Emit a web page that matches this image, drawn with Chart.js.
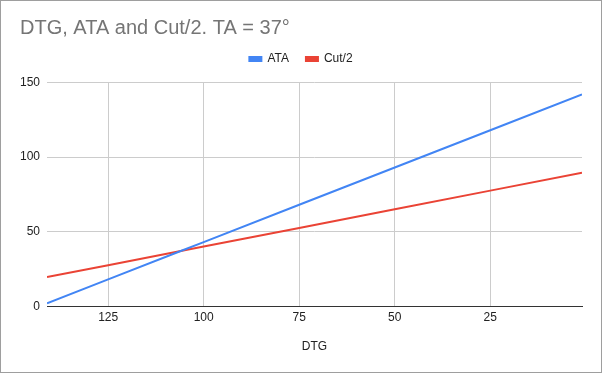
<!DOCTYPE html>
<html>
<head>
<meta charset="utf-8">
<script src="https://cdn.jsdelivr.net/npm/chart.js@4/dist/chart.umd.min.js"></script>
<style>
  html, body { margin: 0; padding: 0; background: #fff; }
  canvas { display: block; }
</style>
</head>
<body>
<canvas id="chart" width="602" height="373"></canvas>
<script>
// Values
const dtg = [141, 125, 106, 100, 75, 50, 25, 1];
const ata = [2, 18, 37, 43, 68, 93, 118, 142];
const cutHalf = [19.5, 27.5, 37, 40, 52.5, 65, 77.5, 89.5];
const xTicks = [125, 100, 75, 50, 25];
const yTicks = [0, 50, 100, 150];

const labelFont = { family: 'Liberation Sans, Arial, sans-serif', size: 12 };

// White background and thin grey frame
const framePlugin = {
    id: 'frame',
    beforeDraw(chart) {
        const ctx = chart.ctx;
        ctx.save();
        ctx.fillStyle = '#ffffff';
        ctx.fillRect(0, 0, chart.width, chart.height);
        ctx.restore();
    },
    afterDraw(chart) {
        const ctx = chart.ctx;
        ctx.save();
        ctx.strokeStyle = '#9e9e9e';
        ctx.lineWidth = 1;
        ctx.strokeRect(0.5, 0.5, chart.width - 1, chart.height - 1);
        ctx.restore();
    }
};

const ctx = document.getElementById('chart').getContext('2d');
new Chart(ctx, {
    type: 'scatter',
    data: {
        datasets: [
            {
                label: 'ATA',
                data: dtg.map((x, i) => ({ x, y: ata[i] })),
                borderColor: '#4285f4',
                backgroundColor: '#4285f4',
                borderWidth: 2,
                showLine: true,
                pointRadius: 0
            },
            {
                label: 'Cut/2',
                data: dtg.map((x, i) => ({ x, y: cutHalf[i] })),
                borderColor: '#ea4335',
                backgroundColor: '#ea4335',
                borderWidth: 2,
                showLine: true,
                pointRadius: 0
            }
        ]
    },
    options: {
        responsive: false,
        animation: false,
        layout: { padding: { left: 20, right: 20, top: 0, bottom: 19 } },
        plugins: {
            title: {
                display: true,
                text: 'DTG, ATA and Cut/2. TA = 37°',
                align: 'start',
                color: '#757575',
                font: { family: 'Liberation Sans, Arial, sans-serif', size: 20, weight: 'normal' },
                padding: { top: 16, bottom: -4 }
            },
            // empty spacer between the legend and the plot area
            subtitle: {
                display: true,
                text: '',
                weight: 500,
                font: { size: 1 },
                padding: { top: 3.3, bottom: 3 }
            },
            legend: {
                position: 'top',
                labels: {
                    boxWidth: 12,
                    boxHeight: 4,
                    padding: 17,
                    color: '#222222',
                    font: labelFont
                }
            },
            tooltip: { enabled: false }
        },
        scales: {
            x: {
                type: 'linear',
                reverse: true,
                min: 1,
                max: 141,
                afterBuildTicks: (scale) => {
                    scale.ticks = xTicks.map(v => ({ value: v }));
                },
                grid: { color: '#cccccc', drawTicks: false },
                border: { display: true, color: '#333333', width: 1 },
                ticks: { color: '#222222', font: labelFont, padding: 4, maxRotation: 0 },
                title: {
                    display: true,
                    text: 'DTG',
                    color: '#222222',
                    font: labelFont,
                    padding: { top: 11, bottom: 0 }
                }
            },
            y: {
                min: 0,
                max: 150,
                afterBuildTicks: (scale) => {
                    scale.ticks = yTicks.map(v => ({ value: v }));
                },
                afterFit: (scale) => { scale.width = 27; },
                grid: {
                    color: (c) => (c.tick && c.tick.value === 0 ? '#333333' : '#cccccc'),
                    drawTicks: false
                },
                border: { display: false },
                ticks: { color: '#222222', font: labelFont, padding: 7 }
            }
        }
    },
    plugins: [framePlugin]
});
</script>
</body>
</html>
